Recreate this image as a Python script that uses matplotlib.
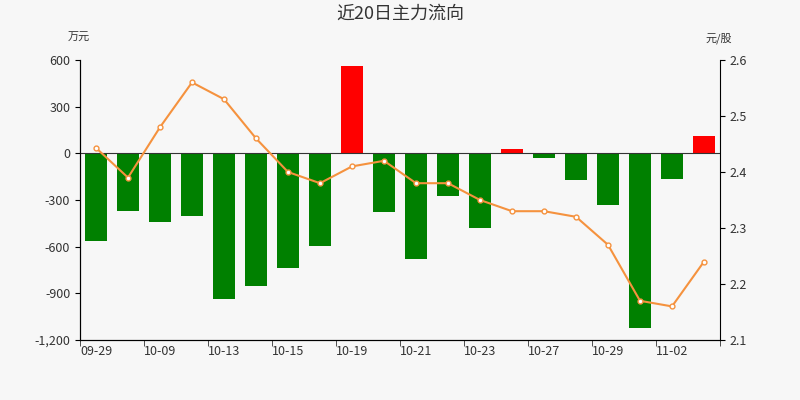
import numpy as np
import matplotlib
matplotlib.use("Agg")
import matplotlib.pyplot as plt

plt.rcParams['font.family'] = ['Noto Sans CJK SC', 'DejaVu Sans']

dates = ["09-29", "09-30", "10-09", "10-10", "10-13", "10-14", "10-15", "10-16",
         "10-19", "10-20", "10-21", "10-22", "10-23", "10-26", "10-27", "10-28",
         "10-29", "10-30", "11-02", "11-03"]
flow = [-566, -373, -443, -405, -938, -855, -739, -597, 561, -379,
        -681, -276, -482, 28, -30, -173, -334, -1125, -167, 111]
price = [2.443, 2.39, 2.48, 2.56, 2.53, 2.46, 2.40, 2.38, 2.41, 2.42,
         2.38, 2.38, 2.35, 2.33, 2.33, 2.32, 2.27, 2.17, 2.16, 2.24]

bg = "#f7f7f7"
fig = plt.figure(figsize=(8, 4), dpi=100, facecolor=bg)
ax = fig.add_axes([0.1, 0.15, 0.8, 0.7], facecolor=bg)
x = np.arange(len(dates))
colors = ["#ff0000" if v > 0 else "#008000" for v in flow]
ax.bar(x, flow, width=0.68, color=colors, zorder=2)
ax.axhline(0, color="#333333", lw=0.8, zorder=3)
ax.set_xlim(-0.5, len(dates) - 0.5)
ax.set_ylim(-1200, 600)
ax.set_yticks(range(-1200, 601, 300))
ax.set_yticklabels([f"{v:,}" for v in range(-1200, 601, 300)], fontsize=9, color="#333333")
ax.set_xticks(x[::2])
ax.set_xticklabels(dates[::2], fontsize=9, color="#333333")
ax.set_xticks(np.arange(-0.5, len(dates), 2), minor=True)
ax.tick_params(axis="x", which="major", length=0)
ax.tick_params(axis="x", which="minor", length=4, color="#333333")
for s in ["top", "right"]:
    ax.spines[s].set_visible(False)

ax2 = ax.twinx()
ax2.plot(x, price, color="#f5923e", lw=1.5, marker="o", ms=3.5,
         mfc="white", mec="#f5923e", mew=1, zorder=4)
ax2.set_ylim(2.1, 2.6)
ax2.set_yticks(np.arange(2.1, 2.61, 0.1))
ax2.set_yticklabels([f"{v:.1f}" for v in np.arange(2.1, 2.61, 0.1)], fontsize=9, color="#333333")
ax2.spines["top"].set_visible(False)

fig.text(0.5, 0.965, "近20日主力流向", ha="center", va="center", fontsize=13, color="#333333")
fig.text(0.085, 0.905, "万元", ha="left", va="center", fontsize=8, color="#333333")
fig.text(0.915, 0.905, "元/股", ha="right", va="center", fontsize=8, color="#333333")

fig.savefig("out.png", dpi=100, facecolor=bg)
